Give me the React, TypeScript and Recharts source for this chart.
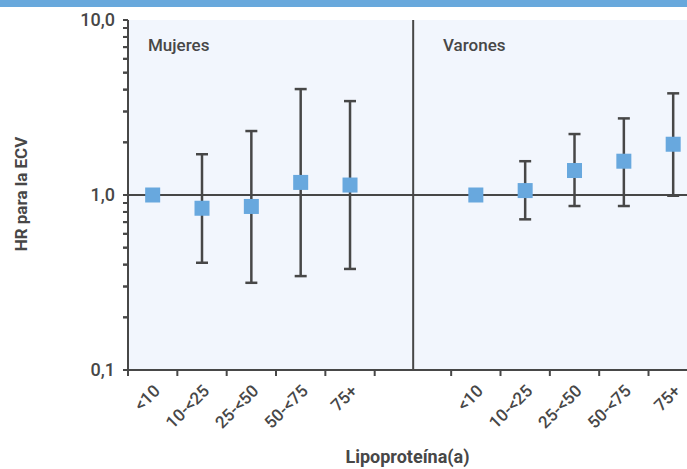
import React from "react";
import {
  ComposedChart, Scatter, ErrorBar, XAxis, YAxis, CartesianGrid, ReferenceLine,
} from "recharts";

// Lp(a) categories (nmol/L)
const CATS = ["<10", "10-<25", "25-<50", "50-<75", "75+"];

// Mujeres: HR and 95% CI
const MUJ_HR = [1, 0.84, 0.86, 1.18, 1.14];
const MUJ_LO = [1, 0.41, 0.315, 0.344, 0.378];
const MUJ_HI = [1, 1.71, 2.32, 4.03, 3.44];

// Varones: HR and 95% CI
const VAR_HR = [1, 1.06, 1.38, 1.56, 1.95];
const VAR_LO = [1, 0.726, 0.865, 0.865, 0.99];
const VAR_HI = [1, 1.56, 2.23, 2.74, 3.81];

// positions on the numeric x axis
const MUJ_X = [0.5, 1.5, 2.5, 3.5, 4.5];
const VAR_X = [7.05, 8.05, 9.05, 10.05, 11.05];
const X_TICKS = [0, 1, 2, 3, 4, 5, 6.55, 7.55, 8.55, 9.55, 10.55];
const X_TICK_LABELS = [...CATS, "", ...CATS];
const X_MAX = 11.33;
const DIVIDER_X = 5.78;

const Y_TICKS = [
  0.1, 0.2, 0.3, 0.4, 0.5, 0.6, 0.7, 0.8, 0.9,
  1, 2, 3, 4, 5, 6, 7, 8, 9, 10,
];
const Y_MAJOR: Record<string, string> = { "0.1": "0,1", "1": "1,0", "10": "10,0" };

const build = (xs: number[], hr: number[], lo: number[], hi: number[]) =>
  xs.map((x, i) => ({ x, hr: hr[i], err: [hr[i] - lo[i], hi[i] - hr[i]] }));

const mujeres = build(MUJ_X, MUJ_HR, MUJ_LO, MUJ_HI);
const varones = build(VAR_X, VAR_HR, VAR_LO, VAR_HI);

const INK = "#474747";
const BLUE = "#68a8de";
const FONT = "Roboto, 'Noto Sans', sans-serif";
const Y_TICK_SIZE = 5;
const Y_TICK_MARGIN = 8;

function Square(props: any) {
  const { cx, cy } = props;
  if (cx == null || cy == null) return null;
  return <rect x={cx - 7.5} y={cy - 7.5} width={15} height={15} fill={BLUE} />;
}

function XTick(props: any) {
  const { x, y, index } = props;
  const label = X_TICK_LABELS[index];
  if (!label) return <g />;
  const ax = x + 33;
  const ay = y + 14;
  return (
    <text
      x={ax}
      y={ay}
      transform={`rotate(-45 ${ax} ${ay})`}
      textAnchor="end"
      fontSize={17}
      fontWeight={500}
      fill={INK}
      fontFamily={FONT}
    >
      {label}
    </text>
  );
}

// every log tick gets its own mark; only decades get a label
function YTick(props: any) {
  const { x, y, payload } = props;
  const label = Y_MAJOR[String(payload.value)];
  const x1 = x + Y_TICK_MARGIN;
  return (
    <g>
      <line x1={x1} x2={x1 + Y_TICK_SIZE} y1={y} y2={y} stroke={INK} strokeWidth={2} />
      {label && (
        <text
          x={x}
          y={y}
          dy={6}
          textAnchor="end"
          fontSize={18}
          fontWeight={500}
          fill={INK}
          fontFamily={FONT}
        >
          {label}
        </text>
      )}
    </g>
  );
}

export default function App() {
  return (
    <div style={{ position: "absolute", left: 0, top: 0, width: 687, height: 469, background: "#fff" }}>
      <div style={{ position: "absolute", left: 0, top: 0, width: 687, height: 7, background: "#68a8dc" }} />
      <ComposedChart
        width={687}
        height={469}
        margin={{ top: 20, right: 0, left: 0, bottom: 0 }}
        style={{ fontFamily: FONT }}
      >
        <CartesianGrid fill="#f2f6fd" horizontal={false} vertical={false} stroke="none" />
        <XAxis
          type="number"
          dataKey="x"
          domain={[0, X_MAX]}
          ticks={X_TICKS}
          interval={0}
          height={99}
          stroke={INK}
          strokeWidth={2}
          tickSize={6}
          tick={<XTick />}
          tickLine={{ stroke: INK, strokeWidth: 2 }}
          label={{
            value: "Lipoproteína(a)",
            position: "insideBottom",
            offset: 6,
            fill: INK,
            fontSize: 18,
            fontWeight: 700,
          }}
        />
        <YAxis
          type="number"
          dataKey="hr"
          scale="log"
          domain={[0.1, 10]}
          allowDataOverflow
          ticks={Y_TICKS}
          interval={0}
          minTickGap={0}
          width={128}
          stroke={INK}
          strokeWidth={2}
          tickSize={Y_TICK_SIZE}
          tickMargin={Y_TICK_MARGIN}
          tickLine={{ stroke: INK, strokeWidth: 2 }}
          tick={<YTick />}
        />
        <ReferenceLine y={1} stroke={INK} strokeWidth={2} />
        <ReferenceLine x={DIVIDER_X} stroke={INK} strokeWidth={2} />
        <Scatter data={mujeres} dataKey="hr" shape={<Square />} isAnimationActive={false}>
          <ErrorBar dataKey="err" direction="y" width={6} stroke={INK} strokeWidth={2.5} />
        </Scatter>
        <Scatter data={varones} dataKey="hr" shape={<Square />} isAnimationActive={false}>
          <ErrorBar dataKey="err" direction="y" width={6} stroke={INK} strokeWidth={2.5} />
        </Scatter>
        <text x={148} y={51} fontSize={17} fontWeight={500} fill={INK} fontFamily={FONT}>Mujeres</text>
        <text x={443} y={51} fontSize={17} fontWeight={500} fill={INK} fontFamily={FONT}>Varones</text>
        <text
          x={27}
          y={194}
          transform="rotate(-90 27 194)"
          textAnchor="middle"
          fontSize={17}
          fontWeight={700}
          fill={INK}
          fontFamily={FONT}
        >
          HR para la ECV
        </text>
      </ComposedChart>
    </div>
  );
}
